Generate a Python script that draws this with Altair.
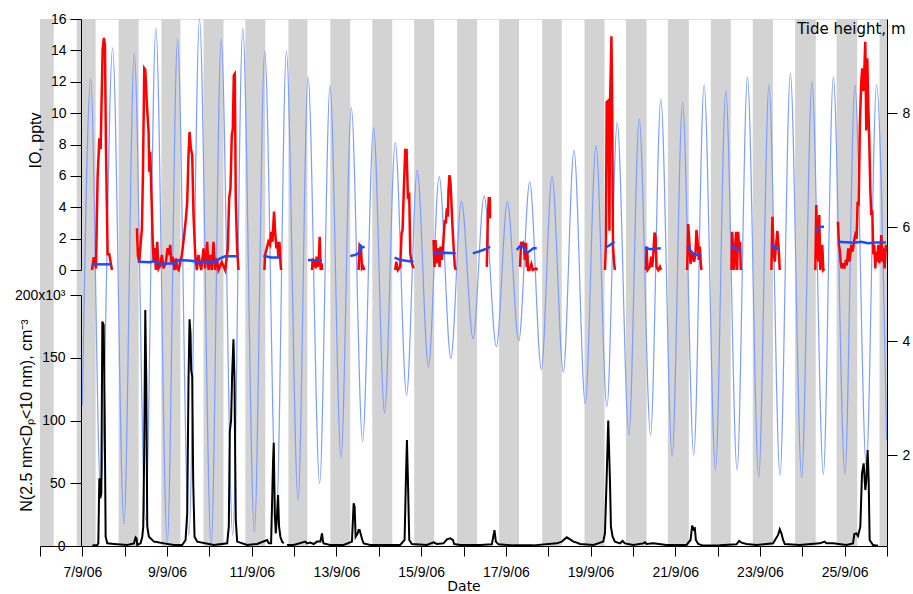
import altair as alt
import pandas as pd

# ---------------- data (x values are decimal day of September 2006) ----------------
NIGHT_START = [6.0, 6.867, 7.857, 8.866, 9.861, 10.848, 11.866, 12.855, 13.846, 14.836, 15.850,
               16.840, 17.858, 18.858, 19.836, 20.825, 21.840, 22.830, 23.830, 24.810, 25.824]
NIGHT_END = [6.324, 7.314, 8.329, 9.315, 10.333, 11.320, 12.314, 13.326, 14.317, 15.308, 16.322,
             17.312, 18.320, 19.330, 20.323, 21.320, 22.310, 23.308, 24.318, 25.298, 26.0]

# tide: start, alternating high / low waters, end
TIDE_DAY = [7.000, 7.196, 7.432, 7.715, 7.982, 8.227, 8.493, 8.736, 9.005, 9.248, 9.514, 9.767,
            10.042, 10.278, 10.552, 10.788, 11.063, 11.306, 11.582, 11.818, 12.094, 12.330, 12.603,
            12.849, 13.108, 13.351, 13.617, 13.877, 14.136, 14.388, 14.655, 14.907, 15.173, 15.426,
            15.702, 15.951, 16.227, 16.487, 16.777, 17.036, 17.305, 17.564, 17.838, 18.090, 18.357,
            18.609, 18.875, 19.128, 19.387, 19.630, 19.906, 20.149, 20.417, 20.660, 20.927, 21.172,
            21.438, 21.681, 21.950, 22.193, 22.460, 22.705, 22.971, 23.214, 23.473, 23.718, 23.985,
            24.228, 24.497, 24.733, 25.006, 25.242, 25.511, 25.754, 25.990]
TIDE_M = [2.88, 8.60, 1.36, 9.15, 0.81, 9.05, 0.87, 9.49, 0.46, 9.30, 0.60, 9.65,
          0.40, 9.30, 0.60, 9.49, 0.66, 9.09, 0.92, 9.09, 1.22, 8.64, 1.51,
          8.49, 1.96, 8.10, 2.25, 7.75, 2.75, 7.49, 3.06, 7.00, 3.55, 6.89,
          3.70, 6.46, 4.05, 6.55, 3.91, 6.45, 4.01, 6.80, 3.51, 6.90, 3.46,
          7.35, 2.91, 7.44, 2.85, 7.84, 2.36, 7.90, 2.36, 8.25, 1.99, 8.19,
          2.01, 8.50, 1.74, 8.40, 1.74, 8.64, 1.61, 8.50, 1.65, 8.70, 1.61,
          8.55, 1.67, 8.64, 1.67, 8.50, 1.80, 8.50, 2.27]

# IO mixing ratio (pptv), one list per measurement period
IO_DAY = [
    [7.227, 7.267, 7.307, 7.321, 7.361, 7.402, 7.432, 7.479, 7.510, 7.534, 7.557, 7.597, 7.637, 7.661, 7.699],
    [8.289, 8.311, 8.344, 8.368, 8.407, 8.430, 8.462, 8.486, 8.525, 8.564, 8.580, 8.603, 8.627, 8.658,
     8.682, 8.706, 8.737, 8.768, 8.800, 8.839, 8.878, 8.918, 8.973, 9.012, 9.036, 9.075, 9.099, 9.130,
     9.177, 9.209, 9.240, 9.272, 9.311, 9.350, 9.413, 9.444, 9.476, 9.507, 9.531, 9.562, 9.594, 9.625,
     9.664, 9.704, 9.743, 9.806, 9.861, 9.900, 9.947, 9.979, 10.018, 10.057, 10.097, 10.136, 10.175,
     10.215, 10.293, 10.372, 10.435, 10.466, 10.498, 10.529, 10.553, 10.576, 10.600, 10.623, 10.655, 10.686],
    [11.299, 11.315, 11.354, 11.393, 11.433, 11.456, 11.488, 11.527, 11.551, 11.582, 11.606, 11.629, 11.653, 11.677, 11.692],
    [12.423, 12.439, 12.462, 12.486, 12.510, 12.533, 12.557, 12.581, 12.604, 12.627, 12.651, 12.659],
    [13.523, 13.547, 13.578, 13.602, 13.633, 13.657],
    [14.388, 14.412, 14.451, 14.506, 14.538, 14.561, 14.593, 14.624, 14.656, 14.687, 14.719, 14.742, 14.781, 14.821],
    [15.292, 15.316, 15.339, 15.363, 15.386, 15.410, 15.434, 15.457, 15.489, 15.512, 15.536, 15.559, 15.583,
     15.606, 15.630, 15.646, 15.669, 15.693, 15.716, 15.740, 15.771, 15.795, 15.818],
    [16.550, 16.573, 16.597, 16.621, 16.629],
    [17.336, 17.360, 17.383, 17.407, 17.430, 17.446, 17.462, 17.477, 17.493, 17.509, 17.525, 17.556, 17.603, 17.635, 17.713, 17.745],
    [19.340, 19.362, 19.381, 19.420, 19.446, 19.462, 19.493, 19.510, 19.530, 19.555, 19.575],
    [20.307, 20.322, 20.346, 20.401, 20.433, 20.456, 20.480, 20.511, 20.535, 20.558, 20.598, 20.637, 20.661],
    [21.281, 21.305, 21.328, 21.360, 21.407, 21.446, 21.478, 21.501, 21.525, 21.556, 21.580, 21.603, 21.619],
    [22.327, 22.343, 22.366, 22.390, 22.413, 22.437, 22.461, 22.484, 22.508, 22.531, 22.547],
    [23.270, 23.294, 23.317, 23.349, 23.380, 23.412, 23.443, 23.467],
    [24.307, 24.331, 24.354, 24.378, 24.401, 24.425, 24.449, 24.472, 24.496, 24.527],
    [24.842, 24.865, 24.889, 24.905, 24.928, 24.960, 24.991, 25.023, 25.054, 25.086, 25.110, 25.133, 25.157,
     25.188, 25.220, 25.251, 25.283, 25.306, 25.330, 25.361, 25.392, 25.416, 25.440, 25.463, 25.487, 25.511,
     25.534, 25.558, 25.582, 25.605, 25.629, 25.652, 25.676, 25.700, 25.723, 25.747, 25.771, 25.794, 25.818,
     25.841, 25.865, 25.889, 25.912, 25.943, 25.975],
]
IO_PPTV = [
    [0, 0.75, 0.75, 0.1, 6.0, 8.4, 7.7, 14.1, 14.8, 14.3, 7.8, 1.0, 1.0, 0.6, 0],
    [2.66, 0.96, 0.5, 1.4, 2.66, 6.05, 12.85, 12.75, 10.5, 8.8, 6.27, 7.54, 5.2, 2.23,
     0.5, 1.4, 0, 1.8, 0.1, 0.3, 0.96, 0.1, 0.5, 1.4, 0.96, 1.6, 0.5, 0.85,
     0, 0.74, 0.1, 0, 0.5, 0.96, 2.44, 3.25, 4.36, 7.33, 8.8, 7.75, 7.33, 3.5,
     1.06, 0, 0.96, 0, 1.38, 0.1, 1.8, 0, 0.96, 0, 1.8, 0, 0.74,
     0, 0.5, 0, 1.38, 4.57, 5.2, 8.6, 9.0, 12.4, 12.5, 4.36, 1.38, 0],
    [0, 0.96, 1.38, 1.8, 1.6, 2.44, 1.8, 3.72, 2.44, 1.38, 1.8, 0.74, 1.8, 0.53, 0],
    [0, 0.74, 0.2, 0.64, 0.1, 0.85, 0.2, 0.53, 2.12, 0, 0.43, 0],
    [0, 1.6, 1.49, 0.1, 0.2, 0],
    [0, 0.53, 0, 0.2, 2.34, 2.55, 5.3, 7.65, 7.65, 4.67, 4.78, 1.06, 0.43, 0.1],
    [1.91, 0.2, 1.91, 0.43, 1.06, 1.38, 0.2, 1.49, 0.64, 1.38, 2.34, 3.19, 2.97,
     3.93, 3.4, 5.1, 6.05, 5.52, 4.25, 2.76, 1.27, 0.2, 0],
    [0.2, 3.19, 4.57, 4.57, 3.3],
    [0.2, 1.8, 1.6, 1.7, 1.49, 0.64, 1.66, 1.66, 0.2, 1.06, 0, 0, 0.38, 0, 0.1, 0],
    [0, 1.7, 10.7, 10.8, 2.5, 10.8, 14.9, 11.0, 1.5, 0.5, 0],
    [0, 1.49, 0, 0.2, 0.85, 0.2, 0.96, 2.38, 2.12, 0.2, 0, 0.2, 0],
    [0, 2.93, 2.0, 0.4, 1.06, 0.53, 1.06, 2.55, 1.91, 0.64, 1.49, 0.4, 0],
    [0, 2.44, 1.38, 0, 1.38, 2.44, 0, 2.44, 1.38, 1.8, 0],
    [0, 3.4, 1.38, 0.53, 1.59, 2.49, 1.38, 0],
    [0, 4.14, 1.38, 0.53, 3.5, 0, 0.53, 1.6, 0, 0.1],
    [3.08, 1.6, 1.17, 0.53, 0.1, 0.43, 0.1, 0.53, 0.43, 1.38, 0.53, 0.96, 1.6,
     1.17, 1.8, 2.23, 2.0, 4.35, 4.1, 9.45, 12.0, 12.85, 11.4, 12.6, 14.55, 8.9,
     13.5, 10.5, 8.2, 5.2, 3.5, 3.8, 1.0, 1.6, 0.1, 1.17, 0.53, 1.6, 0.43,
     0.96, 2.23, 0.53, 1.38, 0.1, 1.6],
]

# blue trace on the IO axis (pptv)
LOD_DAY = [
    [7.227, 7.699],
    [8.311, 8.603, 8.706, 8.800, 8.878, 8.996, 9.193, 9.272, 9.586, 9.743, 9.900, 10.136, 10.254, 10.372, 10.686],
    [11.276, 11.450, 11.669],
    [12.329, 12.659],
    [13.327, 13.445, 13.539, 13.578, 13.618, 13.665],
    [14.372, 14.506, 14.821],
    [15.292, 15.567, 15.818],
    [16.220, 16.353, 16.511, 16.629],
    [17.257, 17.336, 17.399, 17.454, 17.509, 17.572, 17.650, 17.729],
    [19.360, 19.460, 19.565],
    [20.283, 20.401, 20.661],
    [21.281, 21.345, 21.407, 21.501, 21.619],
    [22.327, 22.430, 22.547],
    [23.270, 23.349, 23.467],
    [24.307, 24.378, 24.449, 24.512],
    [24.842, 25.220, 25.392, 25.550, 25.747, 25.975],
]
LOD_PPTV = [
    [0.36, 0.36],
    [0.53, 0.49, 0.57, 0.42, 0.36, 0.42, 0.42, 0.64, 0.59, 0.49, 0.53, 0.53, 0.74, 0.87, 0.87],
    [0.91, 0.80, 0.79],
    [0.64, 0.59],
    [0.89, 0.96, 1.10, 1.53, 1.44, 1.49],
    [0.79, 0.64, 0.53],
    [1.06, 1.10, 1.06],
    [1.06, 1.17, 1.32, 1.49],
    [1.27, 1.53, 1.53, 1.23, 1.10, 1.23, 1.38, 1.38],
    [1.44, 1.59, 1.80],
    [1.44, 1.32, 1.38],
    [1.49, 1.30, 1.10, 0.96, 0.96],
    [1.55, 1.35, 1.25],
    [1.64, 1.38, 1.32],
    [2.44, 2.66, 2.76, 2.76],
    [1.80, 1.74, 1.80, 1.70, 1.76, 1.76],
]

# particle number N(2.5 nm < Dp < 10 nm), thousands per cm3
N_DAY = [
    [7.236, 7.354, 7.377, 7.401, 7.424, 7.448, 7.472, 7.503, 7.527, 7.550, 7.589, 7.747, 8.061, 8.218,
     8.258, 8.281, 8.297, 8.375, 8.415, 8.438, 8.462, 8.486, 8.509, 8.533, 8.572, 8.690, 8.926, 9.161,
     9.358, 9.437, 9.476, 9.507, 9.531, 9.554, 9.570, 9.594, 9.617, 9.649, 9.712, 10.105, 10.420, 10.458,
     10.482, 10.513, 10.537, 10.568, 10.592, 10.623, 10.655, 10.891, 11.126, 11.362, 11.401, 11.457,
     11.504, 11.520, 11.543, 11.567, 11.590, 11.621, 11.645, 11.676, 11.716, 11.755],
    [11.834, 11.991, 12.266, 12.305, 12.384, 12.462, 12.541, 12.620, 12.659, 12.682, 12.698, 12.855,
     13.170, 13.366, 13.406, 13.429, 13.453, 13.500, 13.524, 13.547, 13.579, 13.610, 13.642, 13.799,
     14.192, 14.507, 14.609, 14.640, 14.664, 14.688, 14.719, 14.782, 15.136, 15.293, 15.372, 15.529,
     15.608, 15.686, 15.749, 15.781, 15.923, 16.394, 16.669, 16.732, 16.764, 16.827, 17.181, 17.652,
     18.203, 18.321, 18.439, 18.517, 18.596, 18.675, 18.753, 19.068, 19.300, 19.340, 19.379, 19.418,
     19.458, 19.481, 19.521, 19.576, 19.694, 19.757, 19.812, 20.008, 20.244, 20.283, 20.323, 20.480,
     20.795, 21.266, 21.361, 21.400, 21.432, 21.463, 21.487, 21.542, 21.660, 21.817, 22.053, 22.446,
     22.509, 22.564, 22.682, 22.917, 23.310, 23.428, 23.468, 23.507, 23.546, 23.586, 23.939, 24.411,
     24.529, 24.568, 24.726, 25.040, 25.197, 25.229, 25.276, 25.315, 25.370, 25.410, 25.449, 25.488,
     25.512, 25.543, 25.567, 25.590, 25.669, 25.787],
]
N_THOUSANDS = [
    [0.5, 0.8, 2.1, 53.9, 38.0, 42.0, 178.8, 176.1, 105.7, 7.4, 2.1, 1.6, 0.8, 2.1,
     6.9, 6.1, 0.8, 2.1, 7.4, 15.4, 79.1, 188.0, 132.3, 15.4, 7.4, 3.5, 2.1, 0.8,
     0.8, 4.8, 26.0, 132.3, 180.6, 169.5, 140.2, 134.9, 52.6, 7.4, 3.5, 0.8, 2.1, 15.4,
     91.1, 100.4, 136.3, 164.7, 132.3, 20.7, 3.5, 0.8, 1.6, 4.8, 2.1, 2.1,
     68.5, 82.3, 26.0, 10.1, 20.7, 40.6, 15.4, 7.4, 3.5, 2.1],
    [0.8, 0.8, 3.5, 2.1, 2.7, 1.6, 3.5, 3.5, 10.1, 3.5, 2.1, 0.8,
     0.8, 3.5, 34.0, 31.3, 7.4, 10.1, 12.7, 12.7, 8.8, 4.8, 2.1, 0.8,
     0.8, 0.8, 4.8, 52.6, 84.5, 52.6, 4.8, 1.6, 0.8, 2.9, 1.6, 2.1,
     5.3, 6.1, 4.8, 1.6, 0.8, 0.8, 1.3, 12.7, 3.5, 1.3, 0.5, 0.5,
     2.1, 3.5, 6.9, 5.3, 3.5, 2.7, 1.6, 0.8, 3.5, 10.1, 52.6, 99.9,
     52.6, 15.4, 7.4, 3.5, 2.1, 4.0, 2.1, 0.8, 2.1, 2.9, 1.6, 2.1,
     0.8, 0.8, 4.8, 16.2, 13.3, 14.1, 4.8, 1.6, 0.3, 0.3, 0.5, 1.3,
     4.0, 2.7, 1.6, 0.8, 2.1, 8.8, 13.3, 10.1, 4.8, 1.6, 0.8, 2.1,
     3.5, 2.1, 2.1, 0.8, 2.1, 9.6, 10.1, 8.0, 15.4, 57.9, 65.9, 44.6,
     52.6, 76.5, 52.6, 4.8, 0.8, 0.3],
]

X_TICKS = list(range(6, 27))
IO_TICKS = [0, 2, 4, 6, 8, 10, 12, 14, 16]
N_TICKS = [0, 50, 100, 150, 200]
TIDE_TICKS = [2, 4, 6, 8]


def segments(days, vals, name):
    rows = []
    for i, (ds, vs) in enumerate(zip(days, vals)):
        for d, v in zip(ds, vs):
            rows.append({"d": d, name: v, "seg": i})
    return pd.DataFrame(rows)


nights = pd.DataFrame({"start": NIGHT_START, "end": NIGHT_END})
tide = pd.DataFrame({"d": TIDE_DAY, "h": TIDE_M})
io = segments(IO_DAY, IO_PPTV, "io")
lod = segments(LOD_DAY, LOD_PPTV, "io")
nn = segments(N_DAY, N_THOUSANDS, "n")

W, H = 847, 527
LABEL_FONT = "Liberation Sans"

x_axis = alt.Axis(
    values=X_TICKS,
    labelExpr="datum.value % 2 == 1 ? datum.value + '/9/06' : ''",
    tickSize=10, labelPadding=9, labelFontSize=14, labelFont=LABEL_FONT,
    labelColor="black", tickColor="black", domainColor="black",
    labelOverlap=False, labelFlush=False, grid=False, zindex=2,
    title="Date", titleFont="DejaVu Sans", titleFontSize=14, titleFontWeight="normal",
    titleColor="black", titleY=33, titleBaseline="top",
)
x_scale = alt.Scale(domain=[6, 26], nice=False, zero=False)


def X(field):
    return alt.X(f"{field}:Q", scale=x_scale, axis=x_axis, title="Date")


io_scale = alt.Scale(domain=[0, 16], range=[251, 0], nice=False, zero=False)

night_layer = alt.Chart(nights).mark_rect(color="#d3d3d3").encode(
    x=X("start"), x2="end"
)

tide_layer = alt.Chart(tide).mark_line(
    interpolate="monotone", color="#7d9dff", strokeWidth=1.2
).encode(
    x=X("d"),
    y=alt.Y("h:Q", scale=alt.Scale(domain=[0.413, 9.654], nice=False, zero=False),
            axis=alt.Axis(orient="right", values=TIDE_TICKS, tickSize=10, labelPadding=5,
                          labelFontSize=14, labelFont=LABEL_FONT, labelColor="black",
                          tickColor="black", domainColor="black", grid=False, zindex=2,
                          title="Tide height, m", titleAngle=0, titleX=18, titleY=9,
                          titleAlign="right", titleBaseline="middle",
                          titleFont="DejaVu Sans", titleFontSize=15,
                          titleFontWeight="normal", titleColor="black")),
)

io_layer = alt.Chart(io).mark_line(color="#ff0000", strokeWidth=2.5).encode(
    x=X("d"),
    y=alt.Y("io:Q", scale=io_scale,
            axis=alt.Axis(orient="left", offset=-41, values=IO_TICKS, tickSize=11,
                          labelPadding=4, labelFontSize=14, labelFont=LABEL_FONT,
                          labelColor="black", tickColor="black", domainColor="black",
                          grid=False, zindex=2, title="IO, pptv", titleAngle=270, titleX=-46,
                          titleY=121, titleAlign="center", titleBaseline="middle",
                          titleFont=LABEL_FONT, titleFontSize=16,
                          titleFontWeight="normal", titleColor="black")),
    detail="seg:N",
)

lod_layer = alt.Chart(lod).mark_line(color="#1c4cff", strokeWidth=2.5).encode(
    x=X("d"),
    y=alt.Y("io:Q", scale=io_scale, axis=None),
    detail="seg:N",
)

n_layer = alt.Chart(nn).mark_line(color="black", strokeWidth=2).encode(
    x=X("d"),
    y=alt.Y("n:Q", scale=alt.Scale(domain=[0, 200], range=[527, 276], nice=False, zero=False),
            axis=alt.Axis(orient="left", offset=-41, values=N_TICKS, tickSize=11,
                          labelPadding=5, labelFontSize=14, labelFont=LABEL_FONT,
                          labelExpr="datum.value == 200 ? '200x10\u00b3' : datum.label",
                          labelColor="black", tickColor="black", domainColor="black",
                          grid=False, zindex=2, title="N(2.5 nm<D\u209a<10 nm), cm\u207b\u00b3",
                          titleAngle=270, titleX=-55, titleY=396, titleAlign="center",
                          titleBaseline="middle", titleFont=LABEL_FONT, titleFontSize=16,
                          titleFontWeight="normal", titleColor="black")),
    detail="seg:N",
)

chart = alt.layer(night_layer, tide_layer, io_layer, lod_layer, n_layer).resolve_scale(
    y="independent"
).properties(
    width=W, height=H,
    autosize=alt.AutoSizeParams(type="none"),
    padding={"left": 40, "top": 19, "right": 26, "bottom": 48},
    background="white",
).configure_view(stroke=None).configure(font=LABEL_FONT)

chart.save("out.html", embed_options={"renderer": "svg", "actions": False})
